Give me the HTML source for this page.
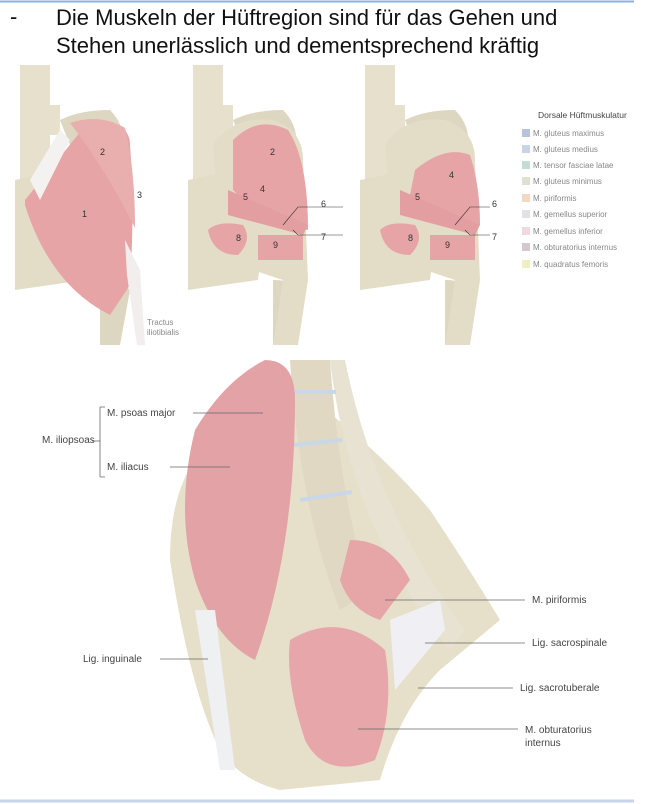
<!DOCTYPE html><html><head><meta charset="utf-8"><style>
body{margin:0;width:664px;height:804px;background:#fff;overflow:hidden;font-family:"Liberation Sans",sans-serif;position:relative}
.t{position:absolute;font-size:22px;color:#111;font-family:"Liberation Sans",sans-serif}
svg{position:absolute;left:0;top:0}
</style></head><body>
<svg width="664" height="804" viewBox="0 0 664 804" font-family="Liberation Sans" >
<line x1="0" y1="1.5" x2="634" y2="1.5" stroke="#8fb0e0" stroke-width="2"/>
<line x1="0" y1="801" x2="634" y2="801" stroke="#c8d4ea" stroke-width="3"/>
<defs>
<g id="bones">
<path d="M20 65 h30 v40 h10 v30 h-10 v45 l-30 10 z" fill="#e6e0cc"/>
<path d="M15 180 l50 -10 30 30 -10 80 -70 10z" fill="#e3dcc6"/>
<path d="M60 120 q20 -10 50 -10 q20 20 10 50 l-40 10z" fill="#ddd6c0"/>
<path d="M100 280 q20 0 30 10 l-10 55 h-20z" fill="#ddd6c0"/>
</g>
</defs>
<use href="#bones"/>
<path d="M25 200 l65 -80 q40 0 40 25 q5 60 0 140 l-20 30 q-60 -30 -85 -110z" fill="#e6a4a6"/>
<path d="M70 123 q30 -10 55 5 q10 40 10 100 q-30 -60 -65 -105z" fill="#e9aeae"/>
<path d="M125 240 l15 30 5 75 h-8 l-10 -70z" fill="#f2eeee"/>
<path d="M30 180 l30 -50 10 10 -30 60z" fill="#f4f2f0"/>
<text x="100" y="155" font-size="9" fill="#333">2</text><text x="137" y="198" font-size="9" fill="#333">3</text><text x="82" y="217" font-size="9" fill="#333">1</text>
<text x="147" y="325" font-size="8" fill="#888">Tractus</text><text x="147" y="335" font-size="8" fill="#888">iliotibialis</text>
<g transform="translate(173,0)"><use href="#bones"/>
<path d="M40 145 q20 -30 60 -25 q30 10 30 40 l5 120 -10 65 h-25 l10 -65 -60 -20z" fill="#e3dcc6"/>
<path d="M60 140 q25 -25 55 -10 q20 30 20 100 l-40 -5 -35 -35z" fill="#e6a4a6"/>
<path d="M55 190 l80 35 -5 10 -75 -20z" fill="#e39ea2"/>
<path d="M35 230 q10 -10 35 -5 q10 15 -5 30 q-25 0 -30 -25z" fill="#e6a4a6"/>
<path d="M85 235 h45 v25 h-45z" fill="#e6a4a6"/>
<text x="97" y="155" font-size="9" fill="#333">2</text><text x="87" y="192" font-size="9" fill="#333">4</text><text x="70" y="200" font-size="9" fill="#333">5</text><text x="63" y="241" font-size="9" fill="#333">8</text><text x="100" y="248" font-size="9" fill="#333">9</text>
<path d="M110 225 l15 -18 h45 M120 230 l5 5 h45" stroke="#333" stroke-width="0.6" fill="none"/>
<text x="148" y="207" font-size="9" fill="#333">6</text><text x="148" y="240" font-size="9" fill="#333">7</text></g>
<g transform="translate(345,0)"><use href="#bones"/>
<path d="M40 145 q20 -30 60 -25 q30 10 30 40 l5 120 -10 65 h-25 l10 -65 -60 -20z" fill="#e3dcc6"/>
<path d="M70 170 q30 -25 55 -15 q10 30 10 70 l-40 -5 -30 -25z" fill="#e6a4a6"/>
<path d="M55 190 l80 35 -5 10 -75 -20z" fill="#e39ea2"/>
<path d="M35 230 q10 -10 35 -5 q10 15 -5 30 q-25 0 -30 -25z" fill="#e6a4a6"/>
<path d="M85 235 h45 v25 h-45z" fill="#e6a4a6"/>
<text x="104" y="178" font-size="9" fill="#333">4</text><text x="70" y="200" font-size="9" fill="#333">5</text><text x="63" y="241" font-size="9" fill="#333">8</text><text x="100" y="248" font-size="9" fill="#333">9</text>
<path d="M110 225 l15 -18 h20 M120 230 l5 5 h20" stroke="#333" stroke-width="0.6" fill="none"/>
<text x="147" y="207" font-size="9" fill="#333">6</text><text x="147" y="240" font-size="9" fill="#333">7</text></g>
<text x="538" y="118" font-size="8.5" fill="#444">Dorsale Hüftmuskulatur</text>
<g font-size="8" fill="#888">
<rect x="522" y="129" width="8" height="8" fill="#b8c4dc"/><text x="533" y="136">M. gluteus maximus</text>
<rect x="522" y="145" width="8" height="8" fill="#c6d4e6"/><text x="533" y="152">M. gluteus medius</text>
<rect x="522" y="161" width="8" height="8" fill="#c4dcd6"/><text x="533" y="168">M. tensor fasciae latae</text>
<rect x="522" y="177" width="8" height="8" fill="#e0e0d0"/><text x="533" y="184">M. gluteus minimus</text>
<rect x="522" y="194" width="8" height="8" fill="#f0d8c4"/><text x="533" y="201">M. piriformis</text>
<rect x="522" y="210" width="8" height="8" fill="#e0e2e6"/><text x="533" y="217">M. gemellus superior</text>
<rect x="522" y="227" width="8" height="8" fill="#f0d8e0"/><text x="533" y="234">M. gemellus inferior</text>
<rect x="522" y="243" width="8" height="8" fill="#d4c8d0"/><text x="533" y="250">M. obturatorius internus</text>
<rect x="522" y="260" width="8" height="8" fill="#eef0c4"/><text x="533" y="267">M. quadratus femoris</text>
</g>
<path d="M170 560 q0 -100 60 -130 l70 -40 q80 60 130 120 q40 60 70 110 l-60 50 q-40 40 -60 110 l-100 10 q-40 -10 -60 -40 q-30 -60 -50 -190z" fill="#e6dfca"/>
<path d="M290 360 l40 0 q10 140 40 230 l-30 20 q-40 -100 -50 -250z" fill="#e0d8c2"/>
<path d="M345 360 q30 150 120 270 l-15 20 q-100 -120 -120 -290z" fill="#e8e2d2"/>
<g stroke="#c8d8e8" stroke-width="4"><line x1="292" y1="392" x2="336" y2="392"/><line x1="294" y1="445" x2="342" y2="440"/><line x1="300" y1="500" x2="352" y2="492"/></g>
<path d="M265 360 q30 0 30 40 q0 150 -40 260 q-40 -20 -60 -80 q-20 -70 0 -150 q30 -50 70 -70z" fill="#e3a2a6"/>
<path d="M350 540 q40 0 60 40 l-30 40 q-30 -10 -40 -40z" fill="#e6a6a8"/>
<path d="M290 640 q50 -30 95 10 q10 60 -10 110 q-50 20 -70 -20 q-20 -60 -15 -100z" fill="#e6a6aa"/>
<path d="M195 610 l25 160 15 0 -20 -160z" fill="#eef0f2"/>
<path d="M390 620 l50 -20 5 30 -50 60z" fill="#f0f0f4"/>
<g font-size="10" fill="#444">
<text x="107" y="416">M. psoas major</text><text x="107" y="470">M. iliacus</text><text x="42" y="443">M. iliopsoas</text>
<path d="M100 407 v70 M100 407 h5 M100 477 h5 M92 441 h8 M193 413 h70 M170 467 h60" stroke="#666" stroke-width="0.8" fill="none"/>
<text x="532" y="603">M. piriformis</text><path d="M385 600 h140" stroke="#666" stroke-width="0.8"/>
<text x="532" y="646">Lig. sacrospinale</text><path d="M425 643 h100" stroke="#666" stroke-width="0.8"/>
<text x="520" y="691">Lig. sacrotuberale</text><path d="M418 688 h95" stroke="#666" stroke-width="0.8"/>
<text x="525" y="733">M. obturatorius</text><text x="525" y="746">internus</text><path d="M358 729 h160" stroke="#666" stroke-width="0.8"/>
<text x="83" y="662">Lig. inguinale</text><path d="M160 659 h48" stroke="#666" stroke-width="0.8"/>
</g>
</svg>
<div class="t" style="left:10px;top:4px">-</div>
<div class="t" style="left:56px;top:4px;line-height:28px">Die Muskeln der Hüftregion sind für das Gehen und<br>Stehen unerlässlich und dementsprechend kräftig</div>
</body></html>
